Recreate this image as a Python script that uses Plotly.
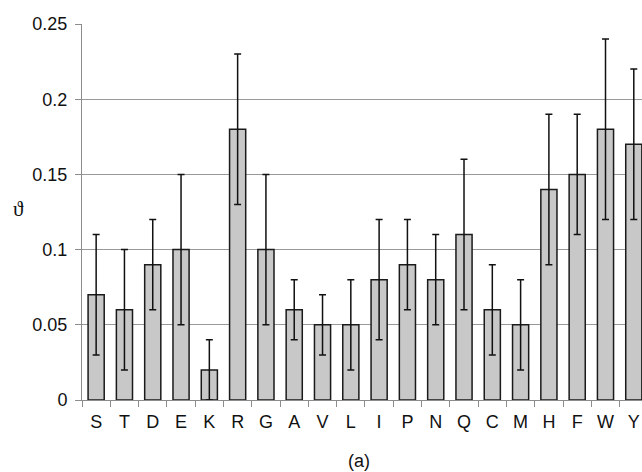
import plotly.graph_objects as go

categories = ["S", "T", "D", "E", "K", "R", "G", "A", "V", "L",
              "I", "P", "N", "Q", "C", "M", "H", "F", "W", "Y"]
values = [0.07, 0.06, 0.09, 0.10, 0.02, 0.18, 0.10, 0.06, 0.05, 0.05,
          0.08, 0.09, 0.08, 0.11, 0.06, 0.05, 0.14, 0.15, 0.18, 0.17]
err_plus = [0.04, 0.04, 0.03, 0.05, 0.02, 0.05, 0.05, 0.02, 0.02, 0.03,
            0.04, 0.03, 0.03, 0.05, 0.03, 0.03, 0.05, 0.04, 0.06, 0.05]
err_minus = [0.04, 0.04, 0.03, 0.05, 0.02, 0.05, 0.05, 0.02, 0.02, 0.03,
             0.04, 0.03, 0.03, 0.05, 0.03, 0.03, 0.05, 0.04, 0.06, 0.05]
y_ticks = [0, 0.05, 0.1, 0.15, 0.2, 0.25]
y_tick_labels = ["0", "0.05", "0.1", "0.15", "0.2", "0.25"]

font = "Liberation Sans, Arial, sans-serif"

fig = go.Figure(go.Bar(
    x=categories, y=values,
    marker=dict(color="#c8c8c8", line=dict(color="#1a1a1a", width=1.5)),
    width=0.57,
    error_y=dict(type="data", symmetric=False, array=err_plus, arrayminus=err_minus,
                 color="#111111", thickness=1.5, width=3.5),
))

fig.update_layout(
    width=642, height=472,
    margin=dict(l=82, r=0, t=24, b=72, autoexpand=False),
    paper_bgcolor="white", plot_bgcolor="white",
    showlegend=False,
    font=dict(family=font, size=18, color="#111111"),
    xaxis=dict(
        range=[-0.5, 19.29], automargin=False,
        showgrid=False, showline=True, linecolor="#8c8c8c", linewidth=1,
        ticks="outside", tickson="boundaries", ticklen=6, tickcolor="#8c8c8c",
        tickfont=dict(size=18), ticklabelstandoff=5,
    ),
    yaxis=dict(
        range=[0, 0.25], tickvals=y_ticks, ticktext=y_tick_labels, automargin=False,
        showgrid=True, gridcolor="#999999", gridwidth=1,
        zeroline=False, showline=True, linecolor="#8c8c8c", linewidth=1,
        ticks="outside", ticklen=6, tickcolor="#8c8c8c",
        tickfont=dict(size=18), ticklabelstandoff=4,
    ),
    annotations=[
        dict(text="ϑ", xref="paper", yref="paper", showarrow=False,
             xanchor="center", yanchor="middle",
             x=(18 - 82) / 560, y=(400 - 209) / 376, font=dict(size=21,
             family="Liberation Serif, DejaVu Serif, serif")),
        dict(text="(a)", xref="paper", yref="paper", showarrow=False,
             xanchor="center", yanchor="middle",
             x=(359 - 82) / 560, y=(400 - 461) / 376, font=dict(size=18)),
    ],
)

fig.write_html("out.html", config={"displayModeBar": False},
               post_script="document.body.style.margin='0';document.body.style.overflow='hidden';")
